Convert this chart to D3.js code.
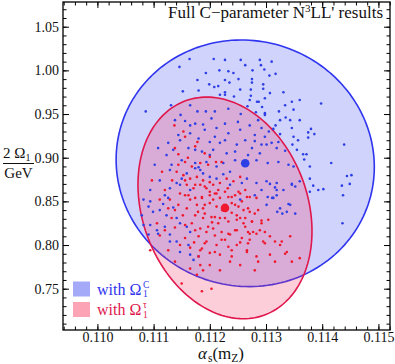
<!DOCTYPE html>
<html><head><meta charset="utf-8">
<script src="https://cdn.jsdelivr.net/npm/d3@7/dist/d3.min.js"></script>
<style>body{margin:0;background:#fff}svg{display:block}text{font-family:"Liberation Serif","Times New Roman",serif}</style>
</head><body>
<svg id="c" width="395" height="364"></svg>
<script>
// ---------- data ----------
const xTicks = [0.110, 0.111, 0.112, 0.113, 0.114, 0.115];
const yTicks = [0.75, 0.80, 0.85, 0.90, 0.95, 1.00, 1.05];
const xDomain = [0.109388, 0.115206];
const yDomain = [0.70271, 1.07829];

// central values (alpha_s, 2*Omega1)
const blueCenter = [0.11263, 0.8936];
const redCenter  = [0.11227, 0.8425];
// ellipse: [sigma_alpha, sigma_omega, correlation]
const blueEllipse = [0.002297, 0.1412, -0.03];
const redEllipse  = [0.001548, 0.1269, -0.21];

const blueAlpha = [0.11164,0.11207,0.11227,0.11255,0.11146,0.11217,0.11233,0.11193,0.11242,0.11178,0.11227,0.11251,0.11199,0.11208,0.11215,0.11235,0.11152,0.11180,0.11218,0.11227,0.11243,0.11131,0.11165,0.11086,0.11178,0.11193,0.11209,0.11148,0.11233,0.11255,0.11156,0.11174,0.11203,0.11227,0.11250,0.11188,0.11212,0.11233,0.11144,0.11165,0.11180,0.11200,0.11218,0.11248,0.11126,0.11108,0.11135,0.11162,0.11186,0.11206,0.11230,0.11123,0.11150,0.11174,0.11194,0.11224,0.11245,0.11132,0.11180,0.11212,
0.11289,0.11310,0.11291,0.11276,0.11297,0.11263,0.11306,0.11317,0.11275,0.11275,0.11295,0.11295,0.11273,0.11307,0.11331,0.11273,0.11298,0.11284,0.11287,0.11267,0.11293,0.11346,0.11398,0.11323,0.11349,0.11282,0.11298,0.11335,0.11343,0.11286,0.11317,0.11313,0.11346,0.11380,0.11375,0.11386,0.11375,0.11305,0.11325,0.11349,0.11298,0.11280,0.11322,0.11357,0.11439,0.11347,0.11292,0.11301,0.11310,0.11275,0.11319,0.11355,0.11334,0.11366,0.11372,0.11368,0.11289,0.11268,0.11303,0.11322,0.11340,0.11416,0.11283,0.11349,0.11378,
0.11452,0.11444,0.11384,0.11393,0.11402,0.11435,0.11449,0.11437,0.11436,0.11340,0.11316,0.11319,0.11346,0.11352,0.11303,0.11311,0.11320,0.11329,0.11307,0.11257,
0.11082,0.11094,0.11091,0.11099,0.11111,0.11117,0.11126,0.11123,0.11135,0.11141,0.11147,0.11159,0.11165,0.11129,0.11141,0.11162,0.11147,0.11165,0.11180,0.11171,0.11108,0.11120,0.11094,0.11129,0.11141,0.11150,0.11159,0.11174,0.11183,0.11188,0.11200,0.11212,0.11224,0.11236,0.11266,0.11283,0.11301,0.11319,0.11331,0.11346,0.11313,0.11319,0.11301,0.11325,0.11337,0.11343,0.11352,0.11378,0.11378,0.11360,
0.11079,0.11082,0.11091,0.11106,0.11129,
0.11138,0.11165,0.11191,0.11209,0.11227,0.11254,0.11271,0.11292,0.11147,0.11174,0.11200,0.11245,0.11263,0.11280,0.11129,0.11147,0.11165,0.11111,0.11102,0.11094,0.11120,0.11236,0.11254,0.11280,0.11292,0.11227,0.11254,0.11271,0.11298,0.11325,0.11360,0.11360,0.11334];
const blueOmega = [1.013,1.013,1.012,1.012,1.004,1.000,0.999,0.997,0.997,0.989,0.989,0.990,0.984,0.981,0.982,0.986,0.976,0.977,0.972,0.975,0.970,0.960,0.960,0.953,0.953,0.953,0.953,0.949,0.956,0.950,0.942,0.939,0.945,0.939,0.941,0.938,0.934,0.928,0.926,0.928,0.922,0.918,0.917,0.915,0.917,0.911,0.909,0.911,0.907,0.909,0.905,0.903,0.897,0.894,0.895,0.894,0.897,0.892,0.889,0.890,
1.012,1.010,1.006,1.000,1.001,1.006,0.994,0.996,0.990,0.986,0.984,0.979,0.978,0.974,0.975,0.971,0.968,0.964,0.964,0.959,0.958,0.964,0.962,0.953,0.955,0.952,0.951,0.946,0.943,0.943,0.937,0.933,0.934,0.933,0.929,0.927,0.923,0.930,0.927,0.924,0.924,0.919,0.918,0.920,0.915,0.915,0.915,0.915,0.917,0.911,0.911,0.909,0.908,0.904,0.904,0.898,0.905,0.903,0.894,0.895,0.892,0.894,0.897,0.890,0.890,
0.880,0.879,0.868,0.863,0.864,0.868,0.870,0.857,0.825,0.847,0.866,0.863,0.870,0.867,0.855,0.854,0.838,0.836,0.870,0.871,
0.852,0.850,0.844,0.838,0.840,0.847,0.854,0.834,0.843,0.831,0.825,0.821,0.815,0.812,0.804,0.800,0.792,0.789,0.787,0.783,0.813,0.821,0.823,0.865,0.871,0.876,0.882,0.888,0.886,0.882,0.878,0.876,0.881,0.884,0.876,0.871,0.873,0.871,0.863,0.869,0.854,0.857,0.846,0.842,0.838,0.846,0.836,0.861,0.876,0.873,
0.834,0.823,0.812,0.817,0.804,
0.943,0.937,0.932,0.924,0.920,0.932,0.937,0.934,0.920,0.909,0.903,0.907,0.920,0.926,0.886,0.869,0.863,0.874,0.892,0.863,0.857,0.869,0.852,0.857,0.863,0.972,0.978,0.966,0.949,0.943,0.943,0.966,0.960];

const redAlpha = [0.11137,0.11153,0.11156,0.11178,0.11174,0.11138,0.11144,0.11191,0.11200,0.11211,0.11221,0.11156,0.11183,0.11144,0.11197,0.11168,
0.11191,0.11200,0.11209,0.11186,0.11206,0.11218,0.11233,0.11245,0.11254,0.11266,0.11239,0.11251,0.11260,0.11271,0.11280,0.11248,0.11263,0.11275,0.11263,0.11257,0.11268,0.11271,0.11277,0.11295,0.11298,0.11283,0.11316,0.11328,0.11337,0.11334,0.11360,0.11266,0.11233,0.11221,0.11209,0.11191,0.11180,0.11188,0.11203,0.11209,0.11191,0.11197,0.11215,0.11227,0.11180,0.11245,0.11292,0.11304,0.11233,
0.11097,0.11141,0.11153,0.11165,0.11177,0.11188,0.11159,0.11171,0.11183,0.11194,0.11206,0.11218,0.11230,0.11242,0.11254,0.11147,0.11162,0.11174,0.11186,0.11200,0.11212,0.11227,0.11239,0.11251,0.11263,0.11271,0.11283,0.11177,0.11188,0.11200,0.11212,0.11230,0.11245,0.11257,0.11268,0.11159,0.11144,0.11174,0.11188,0.11203,0.11218,0.11233,0.11248,0.11260,0.11275,0.11292,0.11168,0.11183,0.11194,0.11206,0.11221,0.11236,0.11248,0.11268,0.11283,0.11307,0.11325,0.11343,0.11346,0.11316,0.11286,0.11266,0.11248,0.11239,0.11212,0.11194,0.11172,0.11186,0.11165,0.11200,0.11218,0.11183,0.11165,0.11150,0.11186,0.11177,0.11094,0.11111,0.11106,0.11126,0.11132,
0.11120,0.11133,0.11111,0.11152,0.11138,0.11156,0.11115,0.11236,0.11298,0.11286,0.11254,0.11138,0.11126,0.11161,
0.11156,0.11174,0.11200,0.11215,0.11232,0.11165,0.11191,0.11222,0.11239,0.11254,0.11156,0.11174,0.11209,0.11227,0.11254,0.11147,0.11183,0.11271,0.11289,0.11129,0.11138,0.11120,0.11239,0.11200,0.11218,0.11280,0.11307,0.11156,0.11179,0.11204];
const redOmega = [0.937,0.930,0.924,0.918,0.913,0.911,0.904,0.905,0.901,0.895,0.895,0.895,0.894,0.892,0.892,0.890,
0.867,0.861,0.859,0.854,0.852,0.854,0.855,0.857,0.859,0.855,0.848,0.844,0.840,0.838,0.836,0.834,0.831,0.827,0.821,0.808,0.802,0.813,0.815,0.804,0.802,0.787,0.804,0.804,0.792,0.790,0.785,0.794,0.798,0.806,0.792,0.802,0.787,0.771,0.750,0.832,0.836,0.821,0.825,0.831,0.810,0.817,0.825,0.829,0.813,
0.874,0.884,0.880,0.876,0.878,0.874,0.869,0.865,0.869,0.865,0.869,0.871,0.876,0.873,0.878,0.859,0.857,0.854,0.855,0.857,0.859,0.861,0.855,0.861,0.863,0.855,0.854,0.846,0.842,0.848,0.844,0.840,0.846,0.850,0.842,0.842,0.846,0.834,0.831,0.832,0.831,0.827,0.829,0.825,0.827,0.828,0.825,0.819,0.815,0.819,0.815,0.812,0.817,0.815,0.813,0.810,0.800,0.810,0.781,0.781,0.781,0.792,0.800,0.787,0.800,0.804,0.803,0.796,0.797,0.791,0.789,0.777,0.773,0.756,0.747,0.766,0.794,0.811,0.825,0.842,0.831,
0.863,0.874,0.852,0.834,0.820,0.808,0.884,0.781,0.815,0.840,0.777,0.781,0.794,0.900,
0.874,0.869,0.872,0.863,0.865,0.852,0.846,0.840,0.837,0.831,0.823,0.817,0.811,0.806,0.803,0.800,0.794,0.806,0.817,0.852,0.840,0.817,0.794,0.777,0.771,0.771,0.789,0.857,0.838,0.826];

const titleText = ["Full C\u2212parameter N", "3", "LL' results"];
const legendLabels = [["with \u03A9", "1", "C"], ["with \u03A9", "1", "\u03C4"]];

// ---------- drawing ----------
const svg = d3.select("#c").style("font-family", "'Liberation Serif', 'Times New Roman', serif");
const L = 63, R = 390, T = 2, B = 330;
const x = d3.scaleLinear().domain(xDomain).range([L, R]);
const y = d3.scaleLinear().domain(yDomain).range([B, T]);

const blueStroke = "#2f35ee", redStroke = "#e0164c";
const blueDot = "#2e3fe6", redDot = "#f0182e";

function ellipsePts(c, e) {
  const [sa, so, rho] = e, k = Math.sqrt(1 - rho * rho);
  return d3.range(0, 361, 2).map(d => {
    const t = d * Math.PI / 180;
    return [c[0] + sa * Math.cos(t), c[1] + so * (rho * Math.cos(t) + k * Math.sin(t))];
  });
}
const line = d3.line().x(d => x(d[0])).y(d => y(d[1])).curve(d3.curveLinearClosed);

const plot = svg.append("g");
plot.append("path").attr("d", line(ellipsePts(blueCenter, blueEllipse)))
  .attr("fill", "rgba(60,72,238,0.24)").attr("stroke", blueStroke).attr("stroke-width", 1.6);
plot.append("path").attr("d", line(ellipsePts(redCenter, redEllipse)))
  .attr("fill", "rgba(244,50,95,0.24)").attr("stroke", redStroke).attr("stroke-width", 1.6);

plot.selectAll(".bd").data(d3.zip(blueAlpha, blueOmega)).join("circle")
  .attr("cx", d => x(d[0])).attr("cy", d => y(d[1])).attr("r", 1.3).attr("fill", blueDot);
plot.selectAll(".rd").data(d3.zip(redAlpha, redOmega)).join("circle")
  .attr("cx", d => x(d[0])).attr("cy", d => y(d[1])).attr("r", 1.3).attr("fill", redDot);
plot.append("circle").attr("cx", x(blueCenter[0])).attr("cy", y(blueCenter[1])).attr("r", 4.3).attr("fill", blueDot);
plot.append("circle").attr("cx", x(redCenter[0])).attr("cy", y(redCenter[1])).attr("r", 4.3).attr("fill", redDot);

// axes
const minorX = d3.range(109400, 115201, 200).map(v => v / 1e6);
const minorY = d3.range(71, 108, 1).map(v => v / 100);
function styleAxis(g) {
  g.select(".domain").remove(); g.attr("font-family", null);
  g.selectAll("line").attr("stroke", "#000").attr("stroke-width", 1);
  g.selectAll("text").attr("font-size", 14).style("font-family", "'Liberation Serif', serif").attr("fill", "#111");
}
svg.append("g").attr("transform", `translate(0,${B})`).call(d3.axisBottom(x).tickValues(minorX).tickSize(-3.5).tickFormat("")).call(styleAxis);
svg.append("g").attr("transform", `translate(0,${T})`).call(d3.axisTop(x).tickValues(minorX).tickSize(-3.5).tickFormat("")).call(styleAxis);
svg.append("g").attr("transform", `translate(${L},0)`).call(d3.axisLeft(y).tickValues(minorY).tickSize(-3.5).tickFormat("")).call(styleAxis);
svg.append("g").attr("transform", `translate(${R},0)`).call(d3.axisRight(y).tickValues(minorY).tickSize(-3.5).tickFormat("")).call(styleAxis);
svg.append("g").attr("transform", `translate(0,${B})`).call(d3.axisBottom(x).tickValues(xTicks).tickSize(-6).tickPadding(2).tickFormat(d3.format(".3f"))).call(styleAxis);
svg.append("g").attr("transform", `translate(0,${T})`).call(d3.axisTop(x).tickValues(xTicks).tickSize(-6).tickFormat("")).call(styleAxis);
svg.append("g").attr("transform", `translate(${L},0)`).call(d3.axisLeft(y).tickValues(yTicks).tickSize(-6).tickPadding(4).tickFormat(d3.format(".2f"))).call(styleAxis);
svg.append("g").attr("transform", `translate(${R},0)`).call(d3.axisRight(y).tickValues(yTicks).tickSize(-6).tickFormat("")).call(styleAxis);
svg.append("rect").attr("x", L).attr("y", T).attr("width", R - L).attr("height", B - T)
  .attr("fill", "none").attr("stroke", "#000").attr("stroke-width", 1.3);

// title
const tt = svg.append("text").attr("x", 383).attr("y", 18).attr("text-anchor", "end").attr("font-size", 17).attr("fill", "#111");
tt.append("tspan").text(titleText[0]);
tt.append("tspan").attr("dy", -6).attr("font-size", 11).text(titleText[1]);
tt.append("tspan").attr("dy", 6).text(titleText[2]);

// x label
const xl = svg.append("text").attr("x", 198).attr("y", 359).attr("font-size", 17).attr("fill", "#111");
xl.append("tspan").attr("font-style", "italic").text("\u03B1");
xl.append("tspan").attr("dx", 1).attr("dy", 3).attr("font-size", 11.5).text("s");
xl.append("tspan").attr("dy", -3).text("(m");
xl.append("tspan").attr("dy", 3).attr("font-size", 11.5).text("Z");
xl.append("tspan").attr("dy", -3).text(")");

// y label
const yl = svg.append("text").attr("x", 3).attr("y", 158).attr("font-size", 15).attr("fill", "#111");
yl.append("tspan").text("2 \u03A9");
yl.append("tspan").attr("dy", 3).attr("font-size", 10).text("1");
svg.append("line").attr("x1", 3).attr("x2", 34).attr("y1", 163.5).attr("y2", 163.5).attr("stroke", "#111").attr("stroke-width", 1);
svg.append("text").attr("x", 18.5).attr("y", 178).attr("text-anchor", "middle").attr("font-size", 15).attr("fill", "#111").text("GeV");

// legend
const legColors = [["#a4aaf8", blueStroke], ["#fda3b6", redStroke]];
legendLabels.forEach((lab, i) => {
  const yy = 281.5 + i * 20.5;
  svg.append("rect").attr("x", 73).attr("y", yy).attr("width", 17).attr("height", 15).attr("fill", legColors[i][0]);
  const t = svg.append("text").attr("x", 97).attr("y", yy + 13).attr("font-size", 16).attr("fill", legColors[i][1]).text(lab[0]);
  const w = t.node().getBBox().width;
  svg.append("text").attr("x", 97 + w + 1.5).attr("y", yy + 15.5).attr("font-size", 9.5).attr("fill", legColors[i][1]).text(lab[1]);
  svg.append("text").attr("x", 97 + w + 1.5).attr("y", yy + 6).attr("font-size", 9.5).attr("fill", legColors[i][1]).text(lab[2]);
});
</script>
</body></html>
